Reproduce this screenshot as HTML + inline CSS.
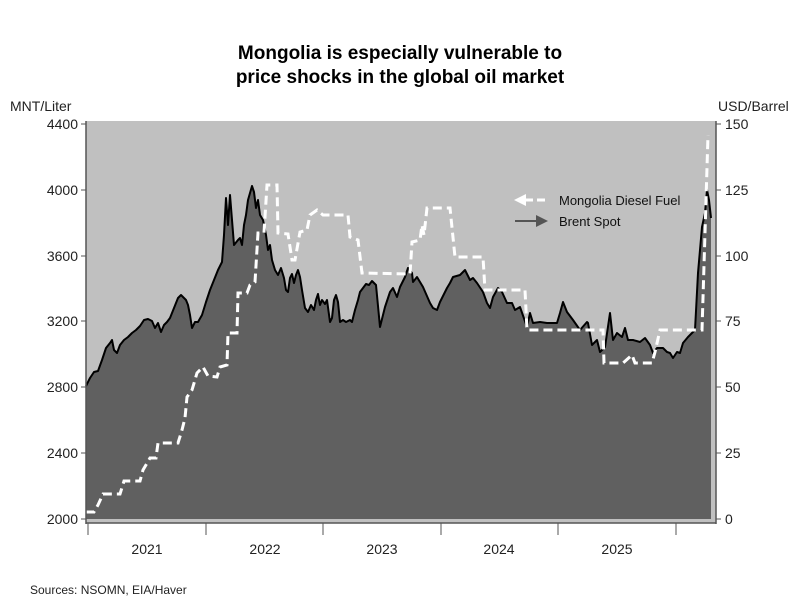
<!DOCTYPE html>
<html><head><meta charset="utf-8"><style>
body{margin:0;background:#fff;}
text{font-family:"Liberation Sans",sans-serif;}
</style></head><body>
<svg width="800" height="600" viewBox="0 0 800 600" xmlns="http://www.w3.org/2000/svg">
<defs>
<polyline id="b" points="86,386 90,378 94,372 98,371 102,360 106,348 110,343 112,340 114,350 117,353 120,345 124,340 128,337 132,333 136,330 140,326 144,320 148,319 152,321 155,328 158,323 161,332 164,325 167,322 170,318 174,308 178,298 181,295 184,298 186,300 188,305 190,315 192,328 195,322 198,322 202,315 206,302 210,290 214,280 218,270 222,262 224,235 226,198 228,225 230,195 232,220 234,245 238,240 240,238 242,245 244,225 246,215 248,200 252,186 254,192 256,208 258,200 260,215 263,220 266,235 268,250 270,245 272,260 275,270 278,275 281,268 284,278 286,290 288,292 290,278 292,274 294,283 296,275 298,270 300,277 302,290 305,308 308,312 311,305 314,310 316,300 318,294 320,305 322,300 325,304 327,300 330,322 332,318 334,300 336,295 338,302 340,322 343,320 346,322 350,320 352,322 355,310 358,300 360,292 363,288 366,284 369,285 372,281 376,285 380,327 385,307 390,292 393,288 397,297 400,287 405,277 408,268 412,273 413,282 417,277 423,287 430,303 433,308 437,310 440,302 447,288 450,283 453,277 460,275 465,270 470,280 473,278 477,283 483,292 487,303 490,308 493,297 498,288 502,292 507,303 512,303 515,310 520,307 527,327 530,313 533,323 540,322 547,323 557,323 560,313 563,302 567,312 573,320 580,330 587,322 588,323 592,345 597,340 600,352 605,347 610,313 613,340 617,333 622,337 625,328 628,340 633,340 640,342 645,338 650,345 653,353 657,348 663,348 667,352 670,353 673,358 677,352 680,353 683,343 688,337 693,332 695,330 698,273 702,227 705,213 707,190 709,200 711,218"/>
</defs>
<rect width="800" height="600" fill="#fff"/>
<text x="400" y="59" text-anchor="middle" font-size="19" font-weight="bold" fill="#000">Mongolia is especially vulnerable to</text>
<text x="400" y="83" text-anchor="middle" font-size="19" font-weight="bold" fill="#000">price shocks in the global oil market</text>
<text x="10" y="111" font-size="14" fill="#222">MNT/Liter</text>
<text x="718" y="111" font-size="14" fill="#222">USD/Barrel</text>
<rect x="86" y="121" width="630" height="402" fill="#c0c0c0"/>
<polygon fill="#606060" stroke="none" points="86,519 86,386 90,378 94,372 98,371 102,360 106,348 110,343 112,340 114,350 117,353 120,345 124,340 128,337 132,333 136,330 140,326 144,320 148,319 152,321 155,328 158,323 161,332 164,325 167,322 170,318 174,308 178,298 181,295 184,298 186,300 188,305 190,315 192,328 195,322 198,322 202,315 206,302 210,290 214,280 218,270 222,262 224,235 226,198 228,225 230,195 232,220 234,245 238,240 240,238 242,245 244,225 246,215 248,200 252,186 254,192 256,208 258,200 260,215 263,220 266,235 268,250 270,245 272,260 275,270 278,275 281,268 284,278 286,290 288,292 290,278 292,274 294,283 296,275 298,270 300,277 302,290 305,308 308,312 311,305 314,310 316,300 318,294 320,305 322,300 325,304 327,300 330,322 332,318 334,300 336,295 338,302 340,322 343,320 346,322 350,320 352,322 355,310 358,300 360,292 363,288 366,284 369,285 372,281 376,285 380,327 385,307 390,292 393,288 397,297 400,287 405,277 408,268 412,273 413,282 417,277 423,287 430,303 433,308 437,310 440,302 447,288 450,283 453,277 460,275 465,270 470,280 473,278 477,283 483,292 487,303 490,308 493,297 498,288 502,292 507,303 512,303 515,310 520,307 527,327 530,313 533,323 540,322 547,323 557,323 560,313 563,302 567,312 573,320 580,330 587,322 588,323 592,345 597,340 600,352 605,347 610,313 613,340 617,333 622,337 625,328 628,340 633,340 640,342 645,338 650,345 653,353 657,348 663,348 667,352 670,353 673,358 677,352 680,353 683,343 688,337 693,332 695,330 698,273 702,227 705,213 707,190 709,200 711,218 711,519"/>
<use href="#b" fill="none" stroke="#000" stroke-width="2" stroke-linejoin="round"/>
<polyline fill="none" stroke="#fff" stroke-width="3" stroke-dasharray="9,5" points="86,512 94,512 98,505 103,494 120,494 124,481 140,481 143,470 150,458 156,458 158,443 178,443 182,430 185,418 187,397 192,390 197,373 203,367 208,376 217,377 220,367 227,365 228,333 237,333 238,293 247,293 250,285 255,282 258,233 264,233 267,185 277,185 278,233 288,234 292,260 295,260 300,232 307,230 310,215 317,210 323,215 348,215 350,237 358,240 362,273 410,274 412,242 420,240 422,225 424,235 427,208 450,208 455,257 483,257 485,290 525,290 527,330 603,330 604,363 623,363 632,355 635,363 652,363 655,352 660,330 702,330 705,233 708,135"/>
<g stroke="#555" stroke-width="1.5" fill="none">
<line x1="86" y1="121" x2="86" y2="524"/>
<line x1="86" y1="523" x2="716" y2="523"/>
<line x1="716" y1="121" x2="716" y2="524"/>
</g>
<g stroke="#555" stroke-width="1">
<line x1="81" y1="124" x2="86" y2="124"/><line x1="81" y1="190" x2="86" y2="190"/><line x1="81" y1="256" x2="86" y2="256"/><line x1="81" y1="321" x2="86" y2="321"/><line x1="81" y1="387" x2="86" y2="387"/><line x1="81" y1="453" x2="86" y2="453"/><line x1="81" y1="519" x2="86" y2="519"/>
<line x1="716" y1="124" x2="721" y2="124"/><line x1="716" y1="190" x2="721" y2="190"/><line x1="716" y1="256" x2="721" y2="256"/><line x1="716" y1="321" x2="721" y2="321"/><line x1="716" y1="387" x2="721" y2="387"/><line x1="716" y1="453" x2="721" y2="453"/><line x1="716" y1="519" x2="721" y2="519"/>
<line x1="88" y1="523" x2="88" y2="535"/><line x1="206" y1="523" x2="206" y2="535"/><line x1="323" y1="523" x2="323" y2="535"/><line x1="441" y1="523" x2="441" y2="535"/><line x1="558" y1="523" x2="558" y2="535"/><line x1="676" y1="523" x2="676" y2="535"/>
</g>
<g font-size="14" fill="#222" text-anchor="end">
<text x="78" y="129">4400</text><text x="78" y="195">4000</text><text x="78" y="261">3600</text><text x="78" y="326">3200</text><text x="78" y="392">2800</text><text x="78" y="458">2400</text><text x="78" y="524">2000</text>
</g>
<g font-size="14" fill="#222">
<text x="725" y="129">150</text><text x="725" y="195">125</text><text x="725" y="261">100</text><text x="725" y="326">75</text><text x="725" y="392">50</text><text x="725" y="458">25</text><text x="725" y="524">0</text>
</g>
<g font-size="14" fill="#222" text-anchor="middle">
<text x="147" y="554">2021</text><text x="265" y="554">2022</text><text x="382" y="554">2023</text><text x="499" y="554">2024</text><text x="617" y="554">2025</text>
</g>
<line x1="525" y1="200" x2="547" y2="200" stroke="#fff" stroke-width="3" stroke-dasharray="8,4"/>
<polygon points="514,200 526,194 526,206" fill="#fff"/>
<line x1="515" y1="221" x2="537" y2="221" stroke="#555" stroke-width="2"/>
<polygon points="548,221 536,215 536,227" fill="#555"/>
<text x="559" y="205" font-size="13" fill="#111">Mongolia Diesel Fuel</text>
<text x="559" y="226" font-size="13" fill="#111">Brent Spot</text>
<text x="30" y="594" font-size="12" fill="#222">Sources:  NSOMN, EIA/Haver</text>
</svg>
</body></html>
